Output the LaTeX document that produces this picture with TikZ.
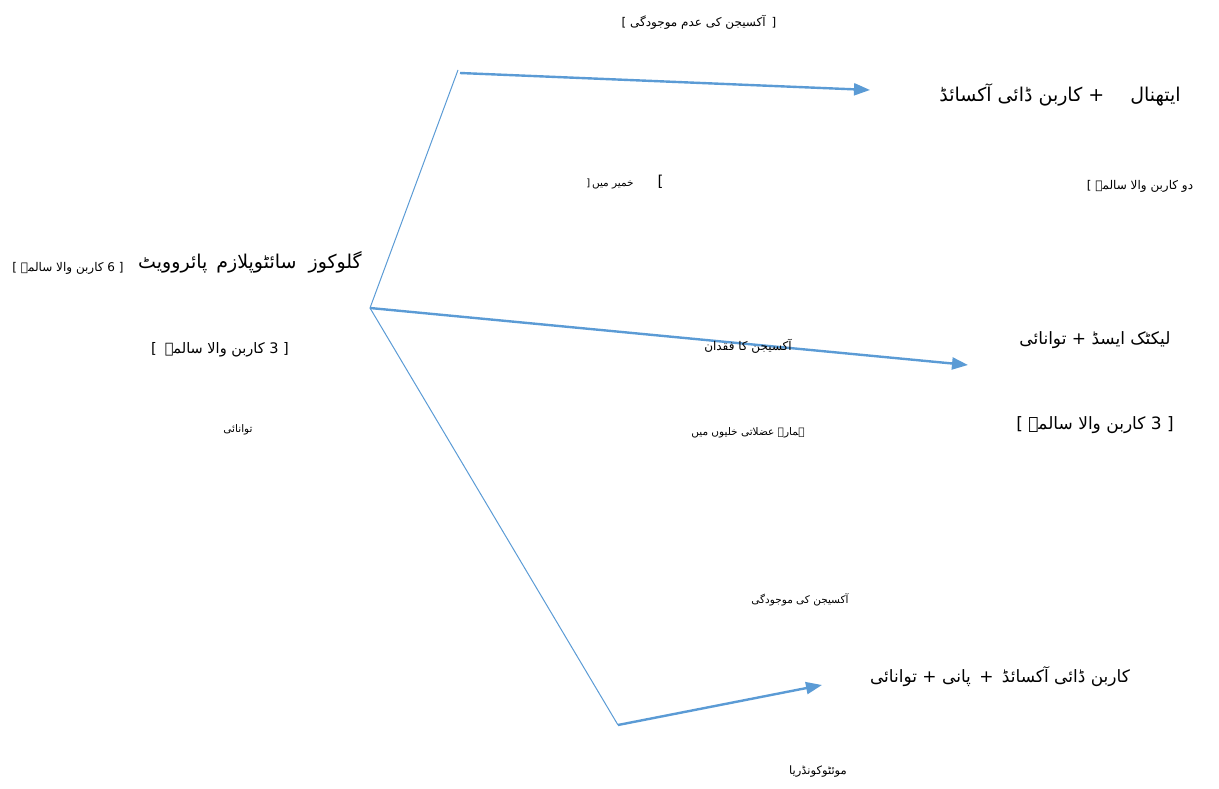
\documentclass[tikz,border=0pt]{standalone}
\usepackage{fontspec}
\TeXXeTstate=1
\newfontfamily\urdu[Script=Arabic]{DejaVu Sans}
\newfontfamily\plainsans{DejaVu Sans}
\usetikzlibrary{arrows.meta}
\definecolor{lineblue}{HTML}{5B9BD5}
\newcommand{\ufs}[1]{\urdu\fontsize{#1}{#1}\selectfont}
\newcommand{\pfs}[1]{\plainsans\fontsize{#1}{#1}\selectfont}
\tikzset{
  small/.style={font=\ufs{10.5}, inner sep=0pt},
  smallb/.style={font=\ufs{12}, inner sep=0pt},
  mid/.style={font=\ufs{14.5}, inner sep=0pt},
  big/.style={font=\ufs{17}, inner sep=0pt},
  thinline/.style={draw=lineblue, line width=1pt},
  arr/.style={draw=lineblue, line width=2.4pt, -{Triangle[length=16pt,width=12pt]}},
}
\begin{document}
\begin{tikzpicture}[x=1pt,y=-1pt]
\useasboundingbox (0,0) rectangle (1219,789);
% junctions
\coordinate (j) at (370,308);
\coordinate (t) at (458,70);
\coordinate (b) at (618,725);
\coordinate (a1s) at (460,73);
\coordinate (a1e) at (870,90);
\coordinate (a2e) at (968,365);
\coordinate (a3e) at (822,685);
% lines
\draw[thinline] (j) -- (t);
\draw[thinline] (j) -- (b);
\draw[arr] (a1s) -- (a1e);
\draw[arr] (j) -- (a2e);
\draw[arr] (b) -- (a3e);
% labels
\node[smallb] (noox) at (699,22) {\beginR[\hspace{6pt}آکسیجن کی عدم موجودگی ]\endR};
\node[big, font=\ufs{19}] (eth) at (1060,95) {\beginR ایتھنال\hspace{26pt}+ کاربن ڈائی آکسائڈ\endR};
\node[small] (yeast) at (625,182) {{\pfs{10}]}\,\beginR خمیر میں\endR\hspace{24pt}{\pfs{15}[}};
\node[smallb] (two) at (1140,186) {\beginR دو کاربن والا سالمہ ]\endR};
\node[big, font=\ufs{19}] (glu) at (250,262) {\beginR گلوکوز\hspace{6pt} سائٹوپلازم\hspace{3pt} پائروویٹ\endR};
\node[smallb] (six) at (68,268) {\beginR[ \beginL6\endL{} کاربن والا سالمہ ]\endR};
\node[mid] (three) at (220,350) {\beginR[ \beginL3\endL{} کاربن والا سالمہ\hspace{8pt}]\endR};
\node[small] (energy) at (238,430) {\beginR توانائی\endR};
\node[small, font=\ufs{12}] (lack) at (748,346) {\beginR آکسیجن کا فقدان\endR};
\node[big] (lactic) at (1095,340) {\beginR لیکٹک ایسڈ + توانائی\endR};
\node[big] (three2) at (1095,425) {\beginR[ \beginL3\endL{} کاربن والا سالمہ ]\endR};
\node[small] (muscle) at (748,433) {\beginR ہمارے عضلاتی خلیوں میں\endR};
\node[small] (oxy) at (800,600) {\beginR آکسیجن کی موجودگی\endR};
\node[big] (co2) at (1000,677) {\beginR کاربن ڈائی آکسائڈ\hspace{3pt} +\hspace{3pt} پانی + توانائی\endR};
\node[small, font=\ufs{11.5}] (mito) at (818,772) {\beginR موئٹوکونڈریا\endR};
\end{tikzpicture}
\end{document}
